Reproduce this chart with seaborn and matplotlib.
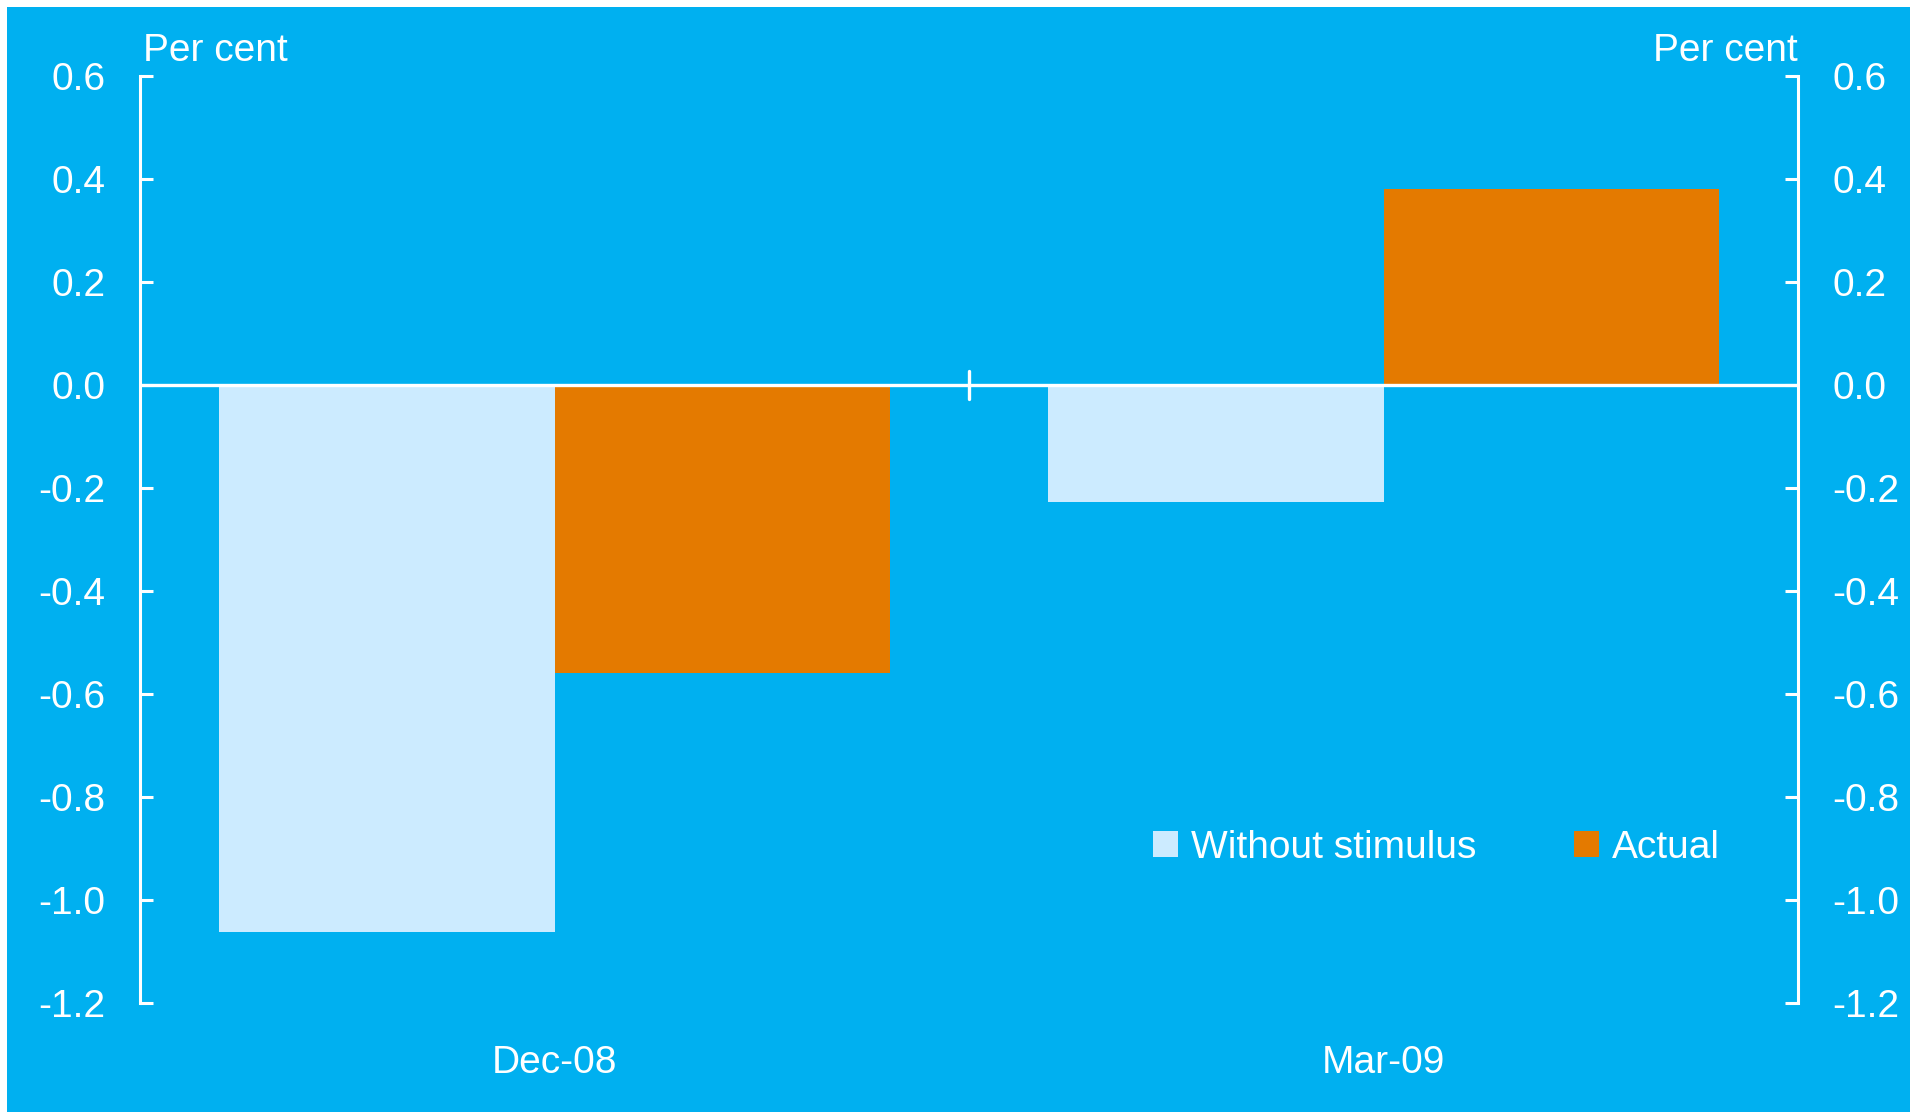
import matplotlib
matplotlib.use("Agg")
import matplotlib.pyplot as plt
import seaborn as sns
import pandas as pd
from matplotlib.patches import Rectangle

quarters = ["Dec-08", "Mar-09"]
without_stimulus = [-1.062, -0.227]
actual = [-0.560, 0.381]
series_names = ["Without stimulus", "Actual"]
yticks = [0.6, 0.4, 0.2, 0.0, -0.2, -0.4, -0.6, -0.8, -1.0, -1.2]

BG = "#00B0F0"
LIGHT = "#CCEBFF"
ORANGE = "#E47A00"
W = "white"
FS = 28

sns.set_theme(style="ticks")
plt.rcParams["font.family"] = ["Liberation Sans", "DejaVu Sans"]

df = pd.DataFrame({
    "quarter": quarters * 2,
    "series": [series_names[0]] * 2 + [series_names[1]] * 2,
    "value": without_stimulus + actual,
})

fig = plt.figure(figsize=(19.1, 11.12), dpi=100)
fig.patch.set_facecolor("white")
bg = Rectangle((7 / 1910, 0), 1 - 7 / 1910, 1 - 7 / 1112,
               transform=fig.transFigure, facecolor=BG, edgecolor="none", zorder=-10)
fig.add_artist(bg)

ax = fig.add_axes([140 / 1910, 1 - 1003 / 1112, (1798 - 140) / 1910, (1003 - 76) / 1112])
ax.set_zorder(5)
ax.patch.set_visible(False)

sns.barplot(data=df, x="quarter", y="value", hue="series", order=quarters,
            hue_order=series_names, palette=[LIGHT, ORANGE], saturation=1,
            width=0.81, ax=ax, edgecolor="none", linewidth=0, zorder=2)

ax.set_xlim(-0.5, 1.5)
ax.set_ylim(-1.2, 0.6)
ax.set_yticks(yticks)
ax.set_yticklabels([f"{v:.1f}" for v in yticks])
ax.set_xlabel("")
ax.set_ylabel("")

for side in ["top", "bottom"]:
    ax.spines[side].set_visible(False)
for side in ["left", "right"]:
    ax.spines[side].set_visible(True)
    ax.spines[side].set_color(W)
    ax.spines[side].set_linewidth(2.2)

ax.tick_params(axis="y", which="both", direction="in", length=9.5, width=2.2,
               color=W, labelcolor=W, labelsize=FS, left=True, right=True,
               labelleft=True, labelright=True, pad=25)
ax.tick_params(axis="x", length=0, bottom=False, labelbottom=False)

xaxis_tr = ax.get_xaxis_transform()
for i, q in enumerate(quarters):
    ax.text(i, -70 / 927, q, transform=xaxis_tr, color=W, fontsize=FS,
            ha="center", va="baseline")

ax.axhline(0, color=W, linewidth=2.4, zorder=3)
z = 1.2 / 1.8
ax.axvline(0.5, ymin=z - 0.015, ymax=z + 0.015, color=W, linewidth=2.4, zorder=3)

ax.text(0.002, 1 + 15 / 927, "Per cent", transform=ax.transAxes, color=W, fontsize=FS,
        ha="left", va="baseline")
ax.text(1.0, 1 + 15 / 927, "Per cent", transform=ax.transAxes, color=W, fontsize=FS,
        ha="right", va="baseline")

handles, labels = ax.get_legend_handles_labels()
leg = ax.legend(handles, labels, ncol=2, frameon=False, loc="center left",
                bbox_to_anchor=(1153 / 1910, 1 - 848 / 1112),
                bbox_transform=fig.transFigure, borderpad=0, borderaxespad=0,
                handlelength=0.65, handleheight=0.65, handletextpad=0.33,
                columnspacing=2.5, fontsize=FS)
for t in leg.get_texts():
    t.set_color(W)

fig.savefig("out.png", dpi=100, facecolor=fig.get_facecolor())
